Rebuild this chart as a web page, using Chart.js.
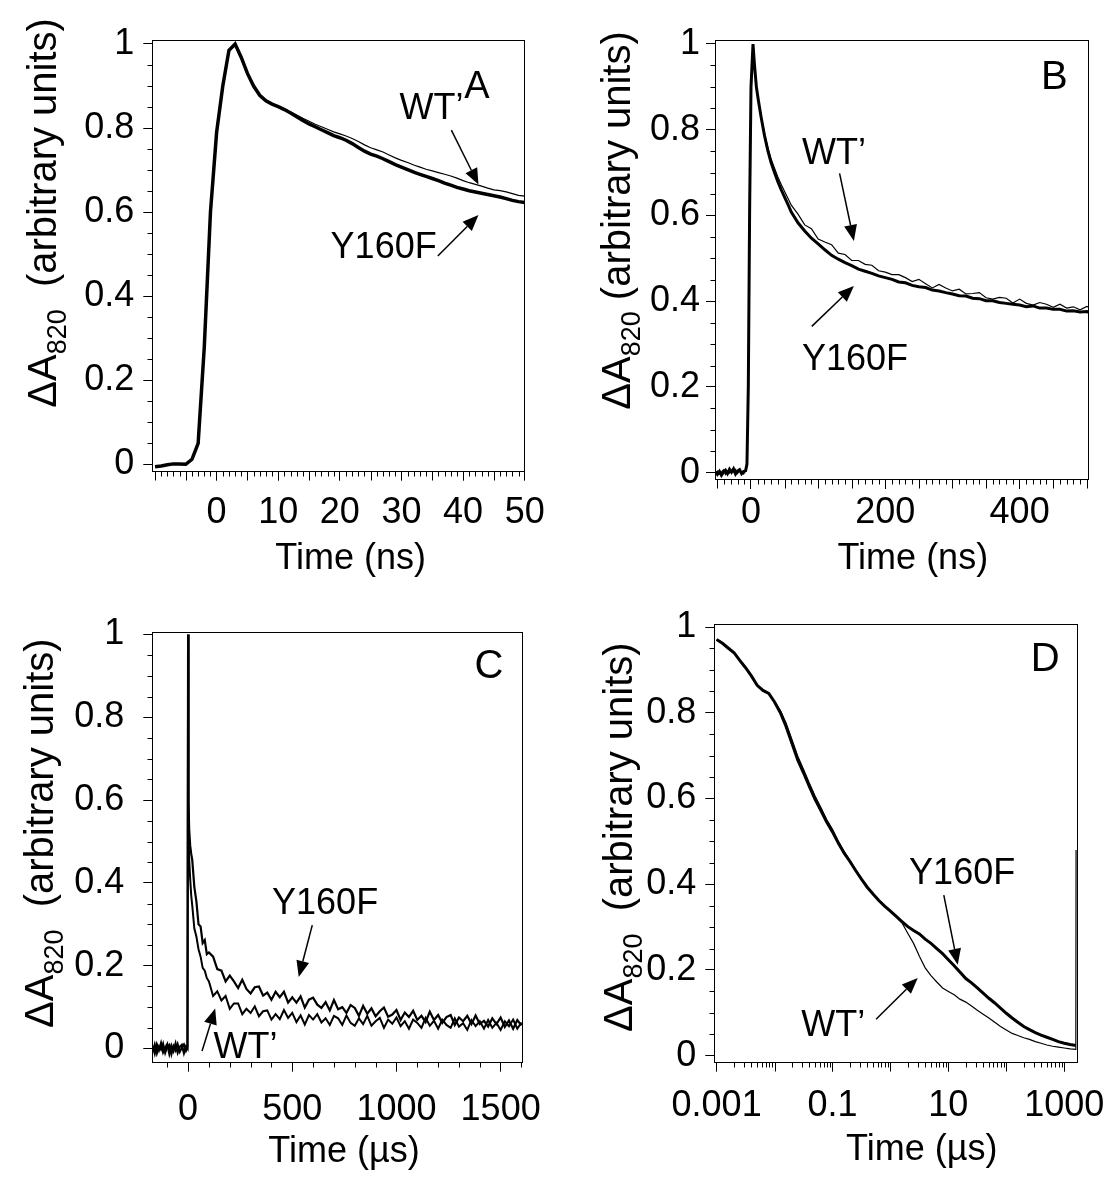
<!DOCTYPE html>
<html>
<head>
<meta charset="utf-8">
<script src="https://cdn.jsdelivr.net/npm/chart.js@4.4.1/dist/chart.umd.min.js"></script>
<style>
  html, body { margin: 0; padding: 0; background: #fff; }
  #fig { position: relative; width: 1118px; height: 1182px; }
  #fig canvas { position: absolute; }
</style>
</head>
<body>
<div id="fig">
  <canvas id="panelA" width="559" height="591" style="left:0;top:0"></canvas>
  <canvas id="panelB" width="559" height="591" style="left:559px;top:0"></canvas>
  <canvas id="panelC" width="559" height="591" style="left:0;top:591px"></canvas>
  <canvas id="panelD" width="559" height="591" style="left:559px;top:591px"></canvas>
</div>
<script>
const FONT = '"Liberation Sans", Arial, Helvetica, sans-serif'

// ---- data ----
// panel A, time in ns
const aTime = [-10, -9, -8, -7, -6, -5, -4, -3, -2, -1, 0, 1, 2, 3, 4, 5, 6, 7, 8, 9,
  10, 11, 12, 13, 14, 15, 16, 17, 18, 19, 20, 21, 22, 23, 24, 25, 26, 27, 28, 29,
  30, 31, 32, 33, 34, 35, 36, 37, 38, 39, 40, 41, 42, 43, 44, 45, 46, 47, 48, 49, 50]
const aY160F = [-0.006, -0.004, -0.001, 0.001, 0.001, 0, 0.012, 0.05, 0.28, 0.6, 0.79, 0.9, 0.985, 1, 0.968, 0.93, 0.9, 0.878, 0.865, 0.857,
  0.851, 0.844, 0.836, 0.827, 0.818, 0.81, 0.803, 0.796, 0.789, 0.782,
  0.777, 0.771, 0.763, 0.754, 0.745, 0.738, 0.733, 0.727, 0.72, 0.713,
  0.707, 0.701, 0.695, 0.69, 0.685, 0.68, 0.675, 0.669, 0.664, 0.659,
  0.655, 0.651, 0.648, 0.645, 0.642, 0.639, 0.636, 0.632, 0.628, 0.625, 0.623]
const aWT = [-0.004, -0.005, 0, 0.002, 0, 0.001, 0.01, 0.048, 0.27, 0.59, 0.785, 0.898, 0.982, 0.998, 0.967, 0.93, 0.9, 0.879, 0.866, 0.858,
  0.852, 0.846, 0.839, 0.831, 0.823, 0.816, 0.809, 0.803, 0.797, 0.791,
  0.786, 0.781, 0.775, 0.768, 0.76, 0.753, 0.748, 0.743, 0.736, 0.729,
  0.723, 0.718, 0.712, 0.707, 0.702, 0.698, 0.694, 0.69, 0.686, 0.681,
  0.675, 0.67, 0.666, 0.662, 0.657, 0.653, 0.651, 0.648, 0.644, 0.64, 0.638]

// panel B, time in ns
const bTime = [-53, -50, -47, -44, -41, -38, -35, -32, -29, -26, -23, -20, -17, -14, -11, -8,
  -6, -4, -2, 0, 3, 5, 8, 11, 15, 20, 25, 30, 35, 40, 45, 50, 55, 60,
  70, 80, 90, 100, 110, 120, 130, 140, 150, 160, 170, 180, 190, 200, 210, 220, 230, 240, 250, 260,
  270, 280, 290, 300, 310, 320, 330, 340, 350, 360, 370, 380, 390, 400, 410, 420, 430, 440, 450,
  460, 470, 480, 490, 500, 503]
const bY160F = [0.002, -0.004, 0.003, -0.006, 0.001, 0.006, -0.002, 0.008, 0.001, 0.009, -0.003, 0.004, 0.007, -0.002, 0.003, 0.005,
  0.02, 0.2, 0.62, 0.9, 1, 0.955, 0.9, 0.868, 0.83, 0.787, 0.752, 0.723, 0.7, 0.679, 0.66, 0.643, 0.626, 0.608,
  0.583, 0.564, 0.547, 0.534, 0.52, 0.507, 0.498, 0.49, 0.483, 0.475, 0.47, 0.465, 0.459, 0.455, 0.451, 0.445, 0.443, 0.437, 0.434, 0.432,
  0.426, 0.424, 0.42, 0.417, 0.413, 0.412, 0.407, 0.406, 0.401, 0.401, 0.397, 0.395, 0.393, 0.391, 0.387, 0.389, 0.384, 0.384, 0.381,
  0.381, 0.377, 0.378, 0.375, 0.376, 0.374]
const bWT = [-0.002, 0.004, -0.003, 0.002, 0.007, -0.004, 0.003, -0.001, 0.006, 0.002, 0.008, -0.002, 0.005, 0.001, -0.003, 0.004,
  0.018, 0.19, 0.6, 0.89, 0.995, 0.952, 0.9, 0.87, 0.833, 0.792, 0.759, 0.731, 0.71, 0.69, 0.672, 0.656, 0.64, 0.624,
  0.603, 0.578, 0.569, 0.545, 0.538, 0.532, 0.512, 0.509, 0.495, 0.495, 0.486, 0.484, 0.471, 0.468, 0.462, 0.462, 0.455, 0.446, 0.451, 0.441,
  0.431, 0.439, 0.431, 0.424, 0.428, 0.417, 0.418, 0.42, 0.408, 0.405, 0.409, 0.407, 0.396, 0.405, 0.395, 0.391, 0.397, 0.393, 0.386,
  0.393, 0.384, 0.387, 0.38, 0.388, 0.386]

// panel C, time in µs
const cTime = [-170, -160, -150, -140, -130, -120, -110, -100, -90, -80, -70, -60, -50, -40, -30, -20, -10,
  -3, 0, 2, 5, 10, 15,
  20, 30, 40, 50, 60, 70, 80, 90, 100,
  120, 140, 160, 180, 200, 220, 240, 260, 280, 300, 320, 340, 360, 380, 400, 420, 440, 460, 480, 500,
  520, 540, 560, 580, 600, 620, 640, 660, 680, 700, 720, 740, 760, 780, 800, 820, 840, 860, 880, 900,
  920, 940, 960, 980, 1000, 1020, 1040, 1060, 1080, 1100, 1120, 1140, 1160, 1180, 1200, 1220, 1240, 1260, 1280, 1300,
  1320, 1340, 1360, 1380, 1400, 1420, 1440, 1460, 1480, 1500, 1520, 1540, 1560, 1580, 1600]
const cY160F = [0.006, -0.012, 0.01, -0.004, 0.013, -0.009, 0.002, 0.011, -0.013, 0.007, -0.006, 0.012, -0.01, 0.004, 0.009, -0.011, 0.005,
  0, 1, 0.6, 0.53, 0.49, 0.47,
  0.455, 0.39, 0.355, 0.3, 0.295, 0.255, 0.262, 0.228, 0.232,
  0.222, 0.192, 0.188, 0.162, 0.176, 0.162, 0.146, 0.166, 0.144, 0.133, 0.148, 0.15, 0.128, 0.135, 0.118, 0.137, 0.124, 0.137, 0.111, 0.124,
  0.111, 0.126, 0.099, 0.118, 0.123, 0.106, 0.098, 0.112, 0.092, 0.117, 0.095, 0.1, 0.086, 0.105, 0.098, 0.079, 0.103, 0.084, 0.097, 0.078,
  0.09, 0.099, 0.077, 0.082, 0.093, 0.069, 0.087, 0.076, 0.091, 0.069, 0.079, 0.064, 0.089, 0.069, 0.081, 0.062, 0.076, 0.081, 0.057, 0.075,
  0.066, 0.079, 0.059, 0.08, 0.059, 0.067, 0.053, 0.073, 0.059, 0.075, 0.052, 0.068, 0.048, 0.069, 0.056]
const cWT = [-0.008, 0.01, -0.012, 0.005, -0.003, 0.012, -0.011, 0.004, 0.009, -0.014, 0.006, -0.005, 0.011, -0.008, 0.002, 0.01, -0.006,
  0.002, 1, 0.58, 0.46, 0.41, 0.37,
  0.345, 0.29, 0.27, 0.24, 0.222, 0.195, 0.188, 0.17, 0.162,
  0.127, 0.138, 0.116, 0.127, 0.096, 0.109, 0.109, 0.083, 0.096, 0.086, 0.102, 0.078, 0.09, 0.092, 0.07, 0.083, 0.071, 0.093, 0.074, 0.086,
  0.064, 0.08, 0.058, 0.081, 0.07, 0.083, 0.063, 0.073, 0.057, 0.079, 0.073, 0.057, 0.08, 0.062, 0.055, 0.073, 0.059, 0.079, 0.055, 0.066,
  0.074, 0.05, 0.07, 0.06, 0.075, 0.054, 0.066, 0.048, 0.07, 0.062, 0.05, 0.074, 0.055, 0.067, 0.048, 0.07, 0.057, 0.05, 0.073, 0.053,
  0.061, 0.045, 0.069, 0.054, 0.066, 0.048, 0.069, 0.05, 0.062, 0.045, 0.066, 0.054, 0.07, 0.048, 0.063]

// panel D, time in µs (log axis)
const dTime = [0.001, 0.00126, 0.00158, 0.002, 0.00251, 0.00316, 0.00398, 0.00501, 0.00631, 0.00794,
  0.01, 0.0126, 0.0158, 0.02, 0.0251, 0.0316, 0.0398, 0.0501, 0.0631, 0.0794,
  0.1, 0.126, 0.158, 0.2, 0.251, 0.316, 0.398, 0.501, 0.631, 0.794,
  1, 1.26, 1.58, 2, 2.51, 3.16, 3.98, 5.01, 6.31, 7.94,
  10, 12.6, 15.8, 20, 25.1, 31.6, 39.8, 50.1, 63.1, 79.4,
  100, 126, 158, 200, 251, 316, 398, 501, 631, 794,
  1000, 1260, 1585, 1600]
const dY160F = [0.971, 0.962, 0.951, 0.94, 0.922, 0.905, 0.886, 0.864, 0.852, 0.845,
  0.825, 0.8, 0.768, 0.728, 0.69, 0.66, 0.628, 0.598, 0.572, 0.545,
  0.522, 0.496, 0.473, 0.453, 0.432, 0.412, 0.393, 0.377, 0.362, 0.349,
  0.337, 0.325, 0.313, 0.301, 0.292, 0.284, 0.272, 0.262, 0.25, 0.238,
  0.224, 0.21, 0.195, 0.18, 0.17, 0.158, 0.146, 0.134, 0.123, 0.111,
  0.099, 0.088, 0.078, 0.068, 0.061, 0.054, 0.048, 0.043, 0.038, 0.033,
  0.029, 0.026, 0.024, null]
const dWT = [0.971, 0.962, 0.951, 0.94, 0.922, 0.905, 0.886, 0.864, 0.852, 0.845,
  0.826, 0.805, 0.776, 0.737, 0.699, 0.668, 0.636, 0.606, 0.579, 0.551,
  0.528, 0.501, 0.477, 0.456, 0.434, 0.413, 0.394, 0.377, 0.362, 0.349,
  0.337, 0.324, 0.31, 0.285, 0.262, 0.232, 0.205, 0.187, 0.172, 0.158,
  0.15, 0.142, 0.132, 0.125, 0.116, 0.106, 0.097, 0.088, 0.078, 0.068,
  0.06, 0.052, 0.047, 0.042, 0.038, 0.033, 0.029, 0.025, 0.022, 0.02,
  0.018, 0.016, 0.015, 0.48]

// tick labels
const yTickValues = [0, 0.2, 0.4, 0.6, 0.8, 1]
const yTickLabels = ['0', '0.2', '0.4', '0.6', '0.8', '1']
const aTickValues = [0, 10, 20, 30, 40, 50]
const aTickLabels = ['0', '10', '20', '30', '40', '50']
const bTickValues = [0, 200, 400]
const bTickLabels = ['0', '200', '400']
const cTickValues = [0, 500, 1000, 1500]
const cTickLabels = ['0', '500', '1000', '1500']
const dTickValues = [0.001, 0.1, 10, 1000]
const dTickLabels = ['0.001', '0.1', '10', '1000']

// ---- small tick marks that carry no label ----
function linearMarks (from, to, step, midEvery, skip) {
  const out = []
  for (let v = from; v <= to + 1e-9; v += step) {
    const r = Math.round(v * 1000) / 1000
    if (skip.includes(r)) continue
    out.push([r, Math.abs(r / midEvery - Math.round(r / midEvery)) < 1e-6 ? 9 : 5])
  }
  return out
}
function logMarks (labelled, max) {
  const out = []
  for (let d = -3; d <= 3; d++) {
    for (let k = 1; k <= 9; k++) {
      const v = k * Math.pow(10, d)
      if (v > max || labelled.some(l => Math.abs(l - v) < 1e-9)) continue
      out.push([v, k === 1 ? 9 : 5])
    }
  }
  return out
}
const yMarks = []
for (let i = 1; i < 20; i++) if (i % 4 !== 0) yMarks.push([i / 20, 5])

function drawArrow (ctx, x1, y1, x2, y2) {
  const ang = Math.atan2(y2 - y1, x2 - x1)
  const head = 16
  const half = 6.5
  const bx = x2 - head * Math.cos(ang)
  const by = y2 - head * Math.sin(ang)
  ctx.lineWidth = 1.5
  ctx.beginPath()
  ctx.moveTo(x1, y1)
  ctx.lineTo(bx, by)
  ctx.stroke()
  ctx.beginPath()
  ctx.moveTo(x2, y2)
  ctx.lineTo(bx + half * Math.sin(ang), by - half * Math.cos(ang))
  ctx.lineTo(bx - half * Math.sin(ang), by + half * Math.cos(ang))
  ctx.closePath()
  ctx.fill()
}

// frame, extra ticks, titles and the labels/arrows on each panel
function decor (p) {
  return {
    id: 'decor',
    afterDraw (chart) {
      const { ctx, chartArea: a } = chart
      const x = chart.scales.x
      const y = chart.scales.y
      ctx.save()
      ctx.strokeStyle = '#000'
      ctx.fillStyle = '#000'
      ctx.lineWidth = 1
      const L = Math.round(a.left) + 0.5
      const T = Math.round(a.top) + 0.5
      const R = Math.round(a.right) - 0.5
      const B = Math.round(a.bottom) - 0.5
      ctx.strokeRect(L, T, R - L, B - T)

      ctx.beginPath()
      for (const [v, len] of p.xMarks) {
        const px = Math.round(x.getPixelForValue(v)) + 0.5
        ctx.moveTo(px, B)
        ctx.lineTo(px, B + len)
      }
      for (const [v, len] of yMarks) {
        const py = Math.round(y.getPixelForValue(v)) + 0.5
        ctx.moveTo(L, py)
        ctx.lineTo(L - len, py)
      }
      ctx.stroke()

      ctx.textBaseline = 'alphabetic'
      ctx.textAlign = 'center'
      ctx.font = '36px ' + FONT
      ctx.fillText(p.xTitle, p.xTitleAt[0], p.xTitleAt[1])

      ctx.save()
      ctx.translate(p.yTitleAt[0], p.yTitleAt[1])
      ctx.rotate(-Math.PI / 2)
      ctx.textAlign = 'left'
      let w = 0
      for (const [txt, size, dy] of [['\u0394A', 40, 0], ['820', 27, 10], [p.yTitleRest, 40, 0]]) {
        ctx.font = size + 'px ' + FONT
        ctx.fillText(txt, w, dy)
        w += ctx.measureText(txt).width
      }
      ctx.restore()

      ctx.textAlign = 'left'
      for (const n of p.notes) {
        ctx.font = n.size + 'px ' + FONT
        ctx.fillText(n.text, x.getPixelForValue(n.x), y.getPixelForValue(n.y))
      }
      for (const ar of p.arrows) {
        drawArrow(ctx, x.getPixelForValue(ar[0]), y.getPixelForValue(ar[1]),
          x.getPixelForValue(ar[2]), y.getPixelForValue(ar[3]))
      }
      ctx.restore()
    }
  }
}

function panel (id, p) {
  return new Chart(document.getElementById(id), {
    type: 'line',
    data: {
      datasets: p.series.map(s => ({
        data: s.time.map((t, i) => ({ x: t, y: s.values[i] })),
        borderColor: '#000',
        borderWidth: s.width,
        pointRadius: 0,
        tension: 0,
        fill: false
      }))
    },
    options: {
      responsive: false,
      animation: false,
      devicePixelRatio: 1,
      events: [],
      layout: { autoPadding: false, padding: { top: p.top, right: p.right, left: 0, bottom: 0 } },
      plugins: { legend: { display: false }, tooltip: { enabled: false } },
      scales: {
        x: {
          type: p.xType,
          position: 'bottom',
          min: p.xMin,
          max: p.xMax,
          afterFit: s => { s.height = p.xHeight },
          afterBuildTicks: s => { s.ticks = p.xTicks.map(v => ({ value: v })) },
          ticks: {
            font: { family: FONT, size: 36 },
            color: '#000',
            padding: p.xPad,
            maxRotation: 0,
            autoSkip: false,
            callback: (v, i) => p.xLabels[i]
          },
          grid: { drawOnChartArea: false, drawTicks: true, tickLength: 9, tickColor: '#000', tickWidth: 1 },
          border: { display: false }
        },
        y: {
          type: 'linear',
          position: 'left',
          min: p.yMin,
          max: p.yMax,
          afterFit: s => { s.width = p.yWidth },
          afterBuildTicks: s => { s.ticks = yTickValues.map(v => ({ value: v })) },
          ticks: {
            font: { family: FONT, size: 36 },
            color: '#000',
            padding: p.yPad,
            callback: (v, i) => yTickLabels[i]
          },
          grid: { drawOnChartArea: false, drawTicks: true, tickLength: 9, tickColor: '#000', tickWidth: 1 },
          border: { display: false }
        }
      }
    },
    plugins: [decor(p)]
  })
}

panel('panelA', {
  series: [{ time: aTime, values: aWT, width: 1.2 }, { time: aTime, values: aY160F, width: 3.5 }],
  xType: 'linear', xMin: -10.44, xMax: 50.05, yMin: -0.0176, yMax: 1.0095,
  xTicks: aTickValues, xLabels: aTickLabels, xMarks: linearMarks(-10, 50, 1, 5, aTickValues),
  top: 40, right: 34, yWidth: 152.3, xHeight: 119.3, xPad: 11, yPad: 9,
  xTitle: 'Time (ns)', xTitleAt: [350.6, 569],
  yTitleAt: [56, 407.7], yTitleRest: '  (arbitrary units)',
  notes: [
    { text: 'WT\u2019', x: 29.7, y: 0.8216, size: 36 },
    { text: 'A', x: 40.2, y: 0.8706, size: 38 },
    { text: 'Y160F', x: 18.5, y: 0.4916, size: 36 }
  ],
  arrows: [[38.1, 0.795, 42.5, 0.6655], [35.9, 0.4956, 42.5, 0.593]]
})

panel('panelB', {
  series: [{ time: bTime, values: bWT, width: 1.2 }, { time: bTime, values: bY160F, width: 3 }],
  xType: 'linear', xMin: -53.6, xMax: 503.3, yMin: -0.017, yMax: 1.0093,
  xTicks: bTickValues, xLabels: bTickLabels, xMarks: linearMarks(-50, 500, 10, 50, bTickValues),
  top: 40, right: 29, yWidth: 156, xHeight: 111, xPad: 2.4, yPad: 6,
  xTitle: 'Time (ns)', xTitleAt: [353.8, 569],
  yTitleAt: [71, 409.7], yTitleRest: ' (arbitrary units)',
  notes: [
    { text: 'B', x: 431.9, y: 0.895, size: 40 },
    { text: 'WT\u2019', x: 75.9, y: 0.7203, size: 36 },
    { text: 'Y160F', x: 75.9, y: 0.2396, size: 36 }
  ],
  arrows: [[131.9, 0.698, 153.2, 0.5407], [90.5, 0.3413, 153.2, 0.4357]]
})

panel('panelC', {
  series: [{ time: cTime, values: cWT, width: 2 }, { time: cTime, values: cY160F, width: 2.2 }],
  xType: 'linear', xMin: -171.8, xMax: 1606, yMin: -0.0342, yMax: 1.0071,
  xTicks: cTickValues, xLabels: cTickLabels, xMarks: linearMarks(-100, 1600, 100, 100000, cTickValues),
  top: 32.7, right: 34, yWidth: 152.3, xHeight: 119.3, xPad: 16.3, yPad: 19,
  xTitle: 'Time (\u00b5s)', xTitleAt: [344, 571.4],
  yTitleAt: [53, 437], yTitleRest: '  (arbitrary units)',
  notes: [
    { text: 'C', x: 1375, y: 0.894, size: 40 },
    { text: 'Y160F', x: 403, y: 0.325, size: 36 },
    { text: 'WT\u2019', x: 122, y: -0.024, size: 36 }
  ],
  arrows: [[596, 0.298, 531, 0.173], [67, -0.006, 130, 0.097]]
})

panel('panelD', {
  series: [{ time: dTime, values: dWT, width: 1.2 }, { time: dTime, values: dY160F, width: 3 }],
  xType: 'logarithmic', xMin: 0.000912, xMax: 1718, yMin: -0.0163, yMax: 1.0077,
  xTicks: dTickValues, xLabels: dTickLabels, xMarks: logMarks(dTickValues, 1718),
  top: 32.7, right: 29.7, yWidth: 155.3, xHeight: 119.3, xPad: 12.6, yPad: 9,
  xTitle: 'Time (\u00b5s)', xTitleAt: [362.8, 569],
  yTitleAt: [73, 441], yTitleRest: '  (arbitrary units)',
  notes: [
    { text: 'D', x: 265, y: 0.897, size: 40 },
    { text: 'Y160F', x: 2.1, y: 0.40, size: 36 },
    { text: 'WT\u2019', x: 0.0288, y: 0.046, size: 36 }
  ],
  arrows: [[8.34, 0.3746, 14.5, 0.212], [0.565, 0.085, 2.96, 0.1815]]
})
</script>
</body>
</html>
